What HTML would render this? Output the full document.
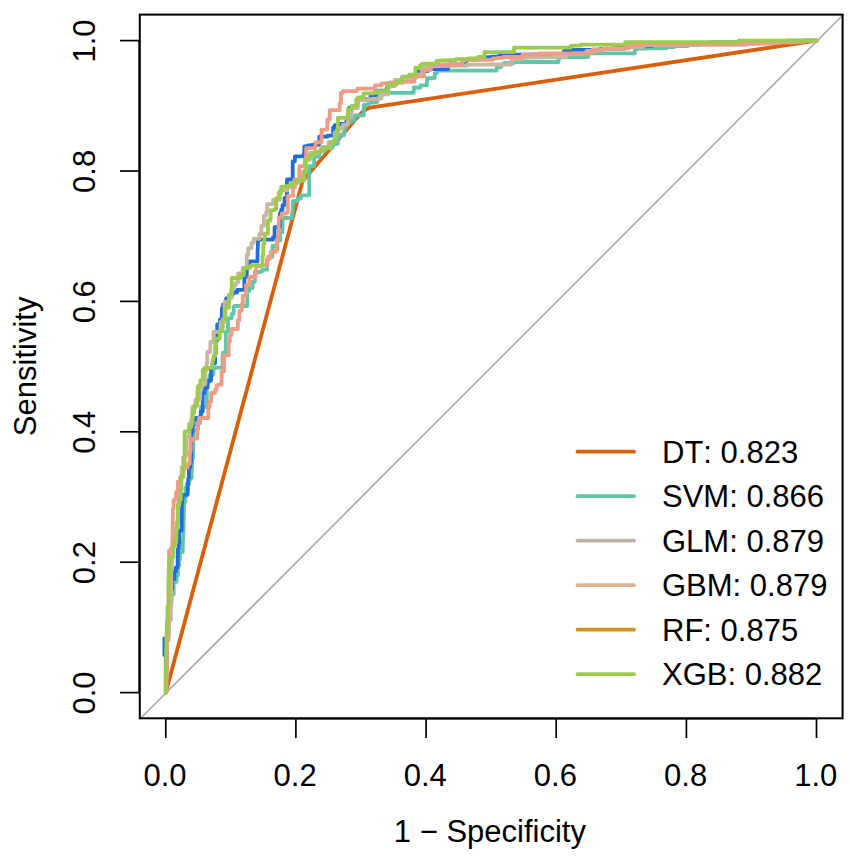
<!DOCTYPE html>
<html><head><meta charset="utf-8"><title>ROC</title>
<style>html,body{margin:0;padding:0;background:#fff}svg{display:block}text{font-kerning:none}</style></head>
<body>
<svg width="850" height="861" viewBox="0 0 850 861">
<rect width="850" height="861" fill="#fff"/>
<g fill="none" stroke-linejoin="round" stroke-linecap="round">
<line x1="140.2" y1="718.7" x2="843.0" y2="15.0" stroke="#A8A8A8" stroke-width="1.6"/>
<path d="M165.8 692.6 L302.6 181.0 L358.0 116.5 L363.5 110.8 L370.0 107.6 L816.5 40.6" stroke="#D95F0A" stroke-width="3.8"/>
<path d="M165.8 692.6 L165.8 689.5 L165.8 689.5 L165.8 688.8 L165.8 688.8 L165.8 688.8 L165.8 684.7 L165.8 675.6 L165.8 675.6 L166.5 675.6 L166.5 673.4 L166.5 665.9 L166.5 665.9 L166.5 664.4 L166.9 664.4 L166.9 658.4 L166.9 658.4 L166.9 640.0 L166.9 640.0 L166.9 640.0 L166.9 637.4 L166.9 633.2 L167.6 633.2 L167.6 622.0 L168.1 622.0 L168.1 618.0 L168.2 618.0 L168.9 618.0 L168.9 610.8 L168.9 607.0 L170.4 607.0 L170.7 607.0 L170.7 603.0 L171.6 603.0 L171.6 602.1 L171.6 602.1 L171.6 597.5 L171.6 594.2 L171.6 594.2 L173.7 594.2 L173.7 583.0 L173.7 581.9 L174.1 581.9 L176.5 581.9 L176.5 575.6 L178.0 575.6 L178.0 565.2 L179.3 565.2 L179.3 561.8 L179.4 561.8 L179.4 559.8 L179.9 559.8 L179.9 557.5 L179.9 552.2 L181.6 552.2 L182.7 552.2 L182.7 546.4 L183.4 532.4 L184.1 501.8 L185.5 501.8 L185.5 495.6 L185.5 487.7 L186.8 487.7 L186.8 483.9 L188.2 483.9 L188.9 483.9 L188.9 480.2 L188.9 480.0 L190.0 480.0 L190.1 480.0 L190.1 478.0 L191.7 478.0 L191.7 473.8 L191.7 470.2 L192.0 470.2 L192.0 458.2 L192.4 458.2 L193.0 458.2 L193.0 455.0 L193.0 451.2 L193.0 451.2 L193.3 451.2 L193.3 450.6 L193.3 431.1 L194.3 431.1 L194.3 430.0 L195.0 430.0 L197.9 430.0 L197.9 425.6 L197.9 425.6 L197.9 423.2 L200.0 423.2 L200.0 418.0 L201.0 418.0 L201.0 417.4 L201.0 407.2 L206.8 407.2 L206.8 406.0 L206.8 406.0 L206.8 393.0 L206.8 391.9 L206.8 391.9 L206.8 391.1 L206.8 391.1 L206.8 381.6 L209.7 381.6 L209.7 375.0 L213.0 375.0 L213.0 374.5 L213.5 374.5 L213.5 373.0 L213.5 373.0 L213.5 367.7 L216.3 367.7 L222.6 367.7 L222.6 357.5 L222.6 355.0 L223.0 355.0 L223.0 355.0 L223.0 353.0 L223.0 352.6 L223.0 352.6 L225.8 352.6 L225.8 347.1 L225.8 347.1 L225.8 343.9 L225.8 332.0 L228.0 332.0 L228.0 318.3 L230.9 318.3 L231.7 318.3 L231.7 313.9 L233.7 313.9 L233.7 309.6 L233.7 306.6 L234.0 306.6 L234.5 306.6 L234.5 306.0 L247.2 306.0 L247.2 292.5 L247.2 291.3 L248.7 291.3 L248.7 291.1 L248.7 291.1 L249.4 291.1 L249.4 290.5 L249.4 288.1 L252.6 288.1 L252.6 288.1 L252.6 287.8 L252.6 281.8 L254.9 281.8 L254.9 272.0 L259.7 272.0 L260.8 272.0 L260.8 271.5 L260.8 271.5 L260.8 271.3 L262.2 271.3 L262.2 269.7 L267.0 269.7 L267.0 262.5 L267.0 259.4 L268.3 259.4 L268.3 256.7 L270.8 256.7 L272.4 256.7 L272.4 253.0 L272.4 246.0 L277.0 246.0 L277.0 240.5 L277.0 240.4 L277.0 240.4 L280.1 240.4 L280.1 232.5 L281.2 232.5 L281.2 232.1 L282.5 232.1 L282.5 229.0 L282.5 218.0 L287.9 218.0 L291.8 218.0 L291.8 214.4 L292.5 214.4 L292.5 211.1 L292.5 210.7 L292.7 210.7 L292.7 201.2 L296.1 201.2 L296.1 200.7 L296.6 200.7 L297.7 200.7 L297.7 199.2 L297.7 198.7 L299.2 198.7 L300.7 198.7 L300.7 196.1 L300.7 195.4 L302.5 195.4 L309.2 195.4 L309.2 187.7 L309.2 166.2 L314.1 166.2 L314.1 162.9 L314.1 156.9 L315.6 156.9 L315.6 156.8 L316.0 156.8 L319.1 156.8 L319.1 151.4 L321.4 151.4 L321.4 150.8 L325.4 150.8 L325.4 147.9 L332.3 147.9 L332.3 144.8 L332.3 143.8 L333.3 143.8 L337.8 143.8 L337.8 137.1 L340.0 137.1 L340.0 135.0 L344.4 135.0 L344.4 127.7 L346.1 127.7 L346.1 125.1 L346.1 123.1 L347.8 123.1 L348.0 123.1 L348.0 122.0 L351.2 122.0 L351.2 119.9 L354.7 119.9 L354.7 115.4 L361.8 115.4 L363.8 115.4 L363.8 112.5 L363.8 104.8 L368.8 104.8 L368.8 104.1 L368.8 104.1 L368.8 102.7 L374.5 102.7 L374.5 102.7 L374.5 102.0 L377.1 102.0 L377.1 100.3 L377.1 92.8 L382.5 92.8 L413.8 92.8 L413.8 87.5 L418.9 87.5 L420.4 87.5 L420.4 85.4 L426.8 85.4 L426.8 82.9 L426.8 82.9 L427.0 82.9 L427.0 78.1 L431.6 78.1 L434.7 78.1 L434.7 73.2 L434.7 73.1 L434.9 73.1 L436.8 73.1 L436.8 72.2 L436.8 70.6 L444.8 70.6 L496.7 70.6 L496.7 67.1 L500.8 67.1 L500.8 64.5 L504.1 64.5 L504.1 63.0 L510.3 63.0 L514.0 63.0 L514.0 62.0 L556.0 62.0 L558.5 62.0 L558.5 58.3 L558.5 58.3 L559.6 58.3 L559.6 57.3 L561.3 57.3 L565.7 57.3 L565.7 57.3 L565.7 57.0 L584.8 57.0 L585.6 57.0 L585.6 57.0 L588.1 57.0 L588.1 53.4 L632.6 53.4 L634.8 53.4 L634.8 49.6 L636.4 49.6 L636.4 48.5 L637.2 48.5 L637.2 48.5 L646.4 48.5 L646.4 48.4 L653.5 48.4 L653.5 48.4 L653.5 48.4 L662.0 48.4 L666.2 48.4 L666.2 48.1 L666.2 47.1 L674.3 47.1 L674.3 46.1 L677.1 46.1 L677.1 46.1 L677.6 46.1 L680.4 46.1 L680.4 46.1 L687.8 46.1 L687.8 45.5 L687.8 45.0 L700.0 45.0 L700.0 44.2 L700.6 44.2 L700.6 44.2 L700.7 44.2 L700.7 44.2 L710.0 44.2 L713.9 44.2 L713.9 44.2 L722.0 44.2 L722.0 43.6 L729.3 43.6 L729.3 43.6 L729.3 43.0 L740.0 43.0 L744.2 43.0 L744.2 43.0 L744.2 43.0 L745.4 43.0 L745.4 42.2 L746.5 42.2 L746.5 42.2 L749.9 42.2 L749.9 42.2 L752.5 42.2 L759.6 42.2 L759.6 42.2 L759.6 42.2 L766.6 42.2 L766.6 42.2 L771.0 42.2 L771.0 41.1 L788.7 41.1 L788.7 41.0 L794.1 41.0 L794.1 41.0 L796.7 41.0 L796.7 41.0 L803.7 41.0 L803.7 40.6 L816.5 40.6" stroke="#5FC6AA" stroke-width="3.8"/>
<path d="M165.8 692.6 L165.8 655.0 L164.4 655.0 L164.4 638.5 L166.8 638.5 L167.6 620.0 L167.6 619.1 L167.6 619.1 L167.6 619.1 L167.6 618.0 L168.3 618.0 L168.3 611.2 L169.3 611.2 L169.3 598.0 L169.3 589.3 L172.1 589.3 L172.1 589.3 L172.1 587.6 L172.1 587.6 L172.1 579.0 L174.4 579.0 L174.4 574.6 L174.4 574.6 L174.4 571.4 L175.9 571.4 L175.9 567.5 L177.6 567.5 L177.6 557.4 L177.9 557.4 L177.9 556.8 L177.9 548.8 L178.8 548.8 L178.8 543.6 L179.2 543.6 L179.2 535.2 L179.2 530.7 L181.6 530.7 L182.0 503.0 L182.7 497.6 L182.7 494.8 L187.6 494.8 L188.3 478.1 L188.9 478.1 L188.9 476.1 L188.9 467.3 L190.4 467.3 L190.4 467.3 L190.4 462.0 L191.2 462.0 L191.2 458.8 L191.2 432.5 L192.5 432.5 L192.5 429.2 L192.5 425.9 L193.7 425.9 L193.7 419.9 L196.1 419.9 L196.1 417.7 L197.8 417.7 L200.7 417.7 L200.7 411.6 L202.7 411.6 L202.7 409.4 L202.7 393.0 L204.6 393.0 L204.6 388.6 L205.8 388.6 L205.8 387.3 L207.7 387.3 L207.7 381.4 L207.7 380.5 L207.7 380.5 L211.0 380.5 L211.0 369.9 L211.0 367.9 L212.4 367.9 L212.4 363.3 L215.1 363.3 L215.1 354.1 L215.7 354.1 L215.7 353.3 L215.7 353.3 L215.7 340.3 L217.2 340.3 L217.2 340.3 L217.2 340.1 L217.2 339.6 L217.2 339.6 L217.2 339.6 L217.2 329.0 L217.2 324.5 L219.5 324.5 L219.5 323.2 L219.5 323.2 L219.9 323.2 L219.9 319.3 L221.9 319.3 L221.9 308.2 L223.0 308.2 L223.0 307.5 L223.0 304.5 L226.2 304.5 L226.2 298.3 L228.8 298.3 L228.8 295.9 L231.7 295.9 L231.7 294.4 L232.8 294.4 L232.8 292.5 L235.2 292.5 L237.1 292.5 L237.1 290.2 L237.1 290.2 L237.1 289.8 L244.4 289.8 L244.4 281.0 L244.4 276.8 L244.8 276.8 L246.8 276.8 L246.8 267.8 L246.8 266.4 L246.8 266.4 L246.8 266.4 L246.8 265.8 L249.2 265.8 L249.2 263.2 L249.2 261.4 L250.8 261.4 L257.5 261.4 L257.5 254.8 L258.1 239.6 L273.0 239.6 L273.0 239.6 L273.0 237.2 L274.6 237.2 L274.6 227.2 L279.8 227.2 L279.8 216.8 L279.8 213.8 L280.5 213.8 L280.5 212.1 L281.2 212.1 L281.2 212.1 L281.2 210.7 L281.2 209.7 L282.5 209.7 L282.5 205.1 L282.8 205.1 L284.5 205.1 L284.5 198.0 L287.0 198.0 L287.0 191.0 L287.0 182.7 L287.0 179.4 L292.7 179.4 L292.7 161.3 L294.9 161.3 L294.9 158.1 L294.9 156.4 L296.8 156.4 L303.4 156.4 L303.4 154.7 L303.4 154.7 L304.3 154.7 L304.3 146.5 L307.6 146.5 L307.6 146.5 L307.6 145.5 L311.7 145.5 L311.7 144.8 L319.1 144.8 L319.1 144.1 L319.3 144.1 L319.3 136.6 L325.7 136.6 L327.6 136.6 L327.6 135.7 L333.1 135.7 L333.1 132.4 L333.1 127.4 L334.7 127.4 L334.7 125.1 L339.5 125.1 L339.5 123.8 L340.7 123.8 L346.2 123.8 L346.2 122.5 L346.4 122.5 L346.4 121.1 L347.9 121.1 L347.9 111.0 L347.9 109.7 L349.3 109.7 L349.3 107.7 L354.5 107.7 L357.1 107.7 L357.1 104.0 L357.8 104.0 L357.8 99.4 L357.8 99.4 L358.2 99.4 L358.2 99.4 L358.4 99.4 L370.6 99.4 L370.6 95.0 L375.9 95.0 L375.9 93.5 L375.9 90.6 L379.2 90.6 L387.2 90.6 L387.2 86.7 L388.7 86.7 L388.7 86.7 L389.1 86.7 L389.1 85.5 L389.1 82.7 L395.1 82.7 L395.1 81.2 L399.2 81.2 L402.3 81.2 L402.3 79.0 L402.3 77.0 L406.3 77.0 L410.8 77.0 L410.8 77.0 L410.8 75.5 L415.4 75.5 L416.1 75.5 L416.1 75.3 L416.1 71.4 L425.3 71.4 L425.3 71.1 L427.9 71.1 L427.9 69.0 L437.0 69.0 L448.0 69.0 L448.0 64.5 L452.0 64.5 L461.7 64.5 L461.7 62.4 L461.7 62.0 L462.1 62.0 L466.2 62.0 L466.2 62.0 L466.2 60.9 L466.4 60.9 L466.4 59.5 L479.4 59.5 L479.4 57.6 L487.0 57.6 L487.0 57.1 L491.8 57.1 L491.8 56.7 L499.2 56.7 L499.4 56.7 L499.4 56.7 L499.4 55.0 L506.8 55.0 L509.0 55.0 L509.0 54.6 L523.9 54.6 L560.9 54.0 L560.9 53.8 L564.0 53.8 L564.0 50.9 L570.8 50.9 L570.8 49.8 L578.8 49.8 L584.3 49.8 L584.3 49.8 L584.3 49.8 L591.5 49.8 L591.5 49.6 L596.7 49.6 L598.0 49.6 L598.0 49.6 L600.2 49.6 L600.2 49.6 L600.2 49.0 L600.5 49.0 L604.0 49.0 L604.0 49.0 L614.5 49.0 L614.5 47.1 L614.5 46.7 L628.8 46.7 L628.8 46.0 L635.1 46.0 L635.1 46.0 L635.7 46.0 L635.7 46.0 L640.0 46.0 L640.0 45.8 L643.0 45.8 L643.0 45.8 L647.4 45.8 L652.4 45.8 L652.4 45.3 L652.4 44.2 L661.4 44.2 L665.9 44.2 L665.9 44.2 L665.9 44.0 L689.3 44.0 L689.3 44.0 L689.3 44.0 L697.3 44.0 L697.3 44.0 L697.3 44.0 L697.9 44.0 L697.9 44.0 L700.0 44.0 L710.5 44.0 L710.5 42.5 L711.0 42.5 L711.0 42.5 L711.0 42.5 L712.7 42.5 L712.7 42.5 L724.7 42.5 L728.7 42.5 L728.7 42.5 L728.7 42.5 L738.3 42.5 L738.3 42.5 L740.0 42.5 L740.0 41.1 L754.0 41.1 L754.0 41.1 L764.4 41.1 L764.4 40.8 L765.1 40.8 L765.1 40.8 L767.7 40.8 L777.8 40.8 L777.8 40.8 L777.8 40.8 L786.5 40.8 L786.5 40.6 L796.5 40.6 L799.1 40.6 L799.1 40.6 L799.1 40.6 L799.8 40.6 L801.4 40.6 L801.4 40.6 L802.9 40.6 L802.9 40.6 L811.0 40.6 L811.0 40.6 L811.0 40.6 L816.5 40.6" stroke="#1F6FDB" stroke-width="3.8"/>
<path d="M165.8 692.6 L165.8 692.6 L165.8 682.1 L165.8 679.7 L166.3 679.7 L166.3 679.7 L166.3 679.6 L166.3 677.1 L166.3 677.1 L167.0 677.1 L167.0 673.0 L167.0 662.8 L167.0 662.8 L167.0 662.8 L167.0 653.8 L167.0 653.8 L167.0 648.4 L167.0 640.0 L167.0 640.0 L168.6 640.0 L168.6 637.6 L168.6 636.2 L168.8 636.2 L168.8 634.1 L169.0 634.1 L169.0 620.0 L170.9 620.0 L170.9 594.0 L171.2 594.0 L171.2 591.5 L171.2 575.3 L171.2 575.3 L171.2 571.3 L171.2 571.3 L171.2 570.0 L172.0 570.0 L172.0 569.5 L172.0 569.5 L172.1 569.5 L172.1 561.9 L172.1 556.9 L173.4 556.9 L173.4 546.0 L173.4 546.0 L174.7 546.0 L174.7 543.9 L174.7 542.9 L174.7 542.9 L176.0 542.9 L176.0 530.0 L176.4 530.0 L176.4 522.9 L176.4 522.3 L176.6 522.3 L178.1 522.3 L178.1 519.8 L178.1 506.2 L178.5 506.2 L179.0 506.2 L179.0 505.0 L179.0 505.0 L179.0 504.9 L179.2 504.9 L179.2 500.3 L179.2 484.3 L180.7 484.3 L180.7 482.0 L181.0 482.0 L181.0 479.6 L181.6 479.6 L181.6 467.1 L183.2 467.1 L183.2 467.1 L183.2 464.7 L183.2 457.4 L185.0 457.4 L185.0 455.0 L185.0 455.0 L186.6 455.0 L186.6 452.1 L186.6 450.5 L186.6 450.5 L186.6 436.5 L189.5 436.5 L189.5 436.5 L189.5 432.8 L189.5 432.8 L189.5 432.0 L189.5 426.9 L191.3 426.9 L191.3 424.9 L191.3 424.9 L191.3 419.1 L192.2 419.1 L192.2 406.9 L193.7 406.9 L195.5 406.9 L195.5 404.9 L195.5 400.0 L196.0 400.0 L196.0 399.4 L197.1 399.4 L200.2 399.4 L200.2 391.6 L200.2 388.6 L201.6 388.6 L201.6 385.0 L203.0 385.0 L203.0 384.2 L203.4 384.2 L205.3 384.2 L205.3 371.0 L205.3 370.5 L206.7 370.5 L206.7 370.3 L206.7 370.3 L206.7 365.8 L206.7 365.8 L206.7 363.3 L207.3 363.3 L207.3 352.0 L209.8 352.0 L210.3 352.0 L210.3 346.9 L210.3 342.0 L213.0 342.0 L213.0 340.9 L213.5 340.9 L213.5 331.8 L218.7 331.8 L220.5 331.8 L220.5 327.3 L220.6 327.3 L220.6 326.4 L220.6 322.0 L222.0 322.0 L224.6 322.0 L224.6 311.2 L224.6 301.8 L229.0 301.8 L229.0 301.8 L229.0 301.0 L229.0 301.0 L229.0 300.4 L229.0 300.0 L229.0 300.0 L229.0 297.8 L231.0 297.8 L231.9 297.8 L231.9 292.5 L231.9 287.8 L234.3 287.8 L234.3 285.0 L236.0 285.0 L236.0 282.3 L238.1 282.3 L238.1 273.4 L241.4 273.4 L242.6 273.4 L242.6 269.1 L242.6 268.0 L243.0 268.0 L246.8 268.0 L246.8 255.4 L246.8 254.8 L248.2 254.8 L248.2 248.2 L251.1 248.2 L251.5 248.2 L251.5 248.0 L251.5 245.3 L251.5 245.3 L251.5 242.7 L253.8 242.7 L253.8 238.8 L256.6 238.8 L259.4 238.8 L259.4 234.0 L261.4 234.0 L261.4 230.5 L261.4 225.9 L261.8 225.9 L263.9 225.9 L263.9 220.7 L263.9 215.7 L266.4 215.7 L266.4 211.4 L267.2 211.4 L267.2 207.4 L267.2 207.4 L267.2 204.1 L270.9 204.1 L270.9 204.1 L272.9 204.1 L273.0 204.1 L273.0 202.8 L273.0 199.8 L275.6 199.8 L280.0 199.8 L280.0 192.0 L280.0 190.3 L282.2 190.3 L287.6 190.3 L287.6 187.2 L295.0 187.2 L295.0 185.4 L295.0 184.0 L296.0 184.0 L296.0 183.9 L296.3 183.9 L296.3 180.8 L298.7 180.8 L302.9 180.8 L302.9 176.3 L302.9 172.0 L305.0 172.0 L305.0 171.4 L305.3 171.4 L305.3 159.4 L308.9 159.4 L310.0 159.4 L310.0 158.0 L310.1 158.0 L310.1 158.0 L310.1 153.0 L318.0 153.0 L318.0 151.6 L321.3 151.6 L321.3 147.0 L326.5 147.0 L328.2 147.0 L328.2 145.2 L328.7 145.2 L328.7 145.2 L328.7 142.0 L334.7 142.0 L334.7 132.7 L338.0 132.7 L338.0 132.7 L338.0 131.0 L338.0 129.5 L338.4 129.5 L339.8 129.5 L339.8 127.8 L342.9 127.8 L342.9 124.7 L347.9 124.7 L347.9 117.0 L351.2 117.0 L351.2 112.7 L351.7 112.7 L351.7 110.0 L351.7 108.1 L354.5 108.1 L357.8 108.1 L357.8 101.0 L357.8 100.4 L358.0 100.4 L368.8 100.4 L368.8 99.9 L368.8 99.2 L378.2 99.2 L378.7 99.2 L378.7 98.5 L381.5 98.5 L381.5 95.5 L382.5 95.5 L382.5 94.4 L388.1 94.4 L388.1 87.2 L389.1 87.2 L389.1 86.0 L394.9 86.0 L394.9 83.7 L394.9 80.0 L400.4 80.0 L402.3 80.0 L402.3 79.5 L402.3 78.4 L403.3 78.4 L414.2 78.4 L414.2 76.0 L414.2 76.0 L415.4 76.0 L415.4 76.0 L415.4 75.7 L416.7 75.7 L416.7 74.7 L422.0 74.7 L422.0 66.5 L438.5 66.0 L464.0 65.7 L467.0 65.7 L467.0 65.7 L467.0 65.7 L467.0 65.7 L467.0 64.6 L480.4 64.6 L490.6 64.6 L490.6 64.5 L500.8 64.5 L500.8 64.5 L500.9 64.5 L500.9 64.5 L500.9 64.5 L504.1 64.5 L504.1 64.5 L509.0 64.5 L511.5 64.5 L511.5 60.8 L511.5 59.9 L514.0 59.9 L514.0 59.2 L515.5 59.2 L523.9 59.2 L523.9 57.5 L560.0 57.0 L565.8 57.0 L565.8 56.0 L565.8 56.0 L566.6 56.0 L566.6 54.0 L577.4 54.0 L578.0 54.0 L578.0 54.0 L578.0 54.0 L583.4 54.0 L583.4 53.6 L586.6 53.6 L586.6 50.9 L591.4 50.9 L595.5 50.9 L595.5 50.9 L595.5 50.5 L602.9 50.5 L602.9 49.0 L613.8 49.0 L613.9 49.0 L613.9 49.0 L620.7 49.0 L620.7 49.0 L620.7 49.0 L625.2 49.0 L625.2 48.3 L628.9 48.3 L628.9 47.1 L637.1 47.1 L642.2 47.1 L642.2 45.8 L644.5 45.8 L644.5 45.5 L644.5 45.1 L650.1 45.1 L661.0 45.1 L661.0 45.1 L666.3 45.1 L666.3 45.1 L666.3 45.1 L674.7 45.1 L678.3 45.1 L678.3 44.8 L678.9 44.8 L678.9 44.8 L678.9 44.8 L688.0 44.8 L699.6 44.8 L699.6 44.8 L699.6 44.8 L705.9 44.8 L705.9 44.8 L714.1 44.8 L714.1 44.8 L723.4 44.8 L723.6 44.8 L723.6 44.8 L723.6 44.8 L724.6 44.8 L724.6 44.8 L733.6 44.8 L733.6 44.8 L740.0 44.8 L740.0 44.8 L741.1 44.8 L746.5 44.8 L746.5 44.0 L746.6 44.0 L746.6 44.0 L746.6 43.8 L754.3 43.8 L754.3 43.5 L772.2 43.5 L772.2 43.1 L773.2 43.1 L773.2 42.9 L774.7 42.9 L774.7 42.4 L790.0 42.4 L790.5 42.4 L790.5 42.4 L794.9 42.4 L794.9 41.7 L794.9 41.7 L800.6 41.7 L803.2 41.7 L803.2 40.7 L807.5 40.7 L807.5 40.7 L816.5 40.7 L816.5 40.6" stroke="#C8B69E" stroke-width="3.8"/>
<path d="M165.8 692.6 L166.6 692.6 L166.6 687.5 L166.6 676.1 L166.6 676.1 L166.6 670.5 L166.6 670.5 L166.6 668.7 L166.6 668.7 L167.0 668.7 L167.0 659.6 L167.0 659.6 L167.0 658.9 L167.0 656.9 L167.0 656.9 L167.0 656.9 L167.0 647.8 L167.0 640.0 L167.0 640.0 L168.3 640.0 L168.3 636.8 L168.3 636.8 L168.3 629.1 L168.3 629.1 L168.3 624.4 L168.4 624.4 L168.4 620.0 L168.6 594.0 L168.6 574.3 L169.0 560.4 L169.0 550.6 L171.2 550.6 L171.2 547.6 L172.3 547.6 L172.3 547.6 L172.3 545.0 L172.8 518.0 L172.8 515.1 L172.9 515.1 L172.9 508.7 L173.6 508.7 L173.6 499.9 L174.3 499.9 L176.1 499.9 L176.1 494.7 L176.1 494.3 L176.3 494.3 L176.3 494.3 L176.3 491.8 L177.7 491.8 L177.7 485.0 L177.7 481.7 L178.8 481.7 L180.1 481.7 L180.1 477.1 L183.5 477.1 L183.5 473.0 L183.5 470.0 L184.0 470.0 L184.0 467.5 L186.4 467.5 L187.5 467.5 L187.5 463.8 L189.7 463.8 L189.7 459.0 L189.7 453.8 L190.1 453.8 L190.1 450.8 L190.7 450.8 L190.7 450.8 L190.7 441.4 L190.7 440.4 L192.4 440.4 L192.4 438.6 L197.2 438.6 L197.2 438.6 L197.2 436.9 L197.2 429.3 L198.1 429.3 L198.1 422.8 L199.0 422.8 L199.0 418.0 L202.8 418.0 L208.3 418.0 L208.3 408.9 L208.3 408.9 L208.3 407.3 L209.6 407.3 L209.6 406.0 L209.7 406.0 L209.7 402.1 L209.7 401.5 L211.2 401.5 L211.2 393.0 L215.0 393.0 L215.0 389.7 L216.6 389.7 L216.6 389.7 L216.6 388.3 L216.6 385.3 L217.8 385.3 L218.2 385.3 L218.2 384.7 L221.6 384.7 L221.6 371.4 L224.0 371.4 L224.0 361.6 L224.0 361.6 L224.0 360.0 L224.0 355.3 L226.2 355.3 L228.7 355.3 L228.7 344.8 L228.7 341.7 L229.8 341.7 L229.8 340.7 L229.8 340.7 L229.8 335.6 L231.2 335.6 L231.2 335.1 L231.6 335.1 L231.6 329.0 L237.8 329.0 L237.8 319.9 L239.4 319.9 L239.4 319.2 L239.4 319.2 L239.4 319.2 L239.4 310.8 L241.7 310.8 L241.7 304.0 L242.8 304.0 L242.8 298.8 L242.8 295.6 L245.3 295.6 L246.0 295.6 L246.0 292.7 L246.0 285.1 L249.3 285.1 L249.3 277.0 L253.7 277.0 L255.7 277.0 L255.7 271.3 L255.7 271.3 L255.7 270.1 L255.7 269.7 L255.9 269.7 L255.9 266.4 L261.4 266.4 L261.4 265.2 L261.9 265.2 L267.4 265.2 L267.4 261.4 L267.4 258.0 L270.6 258.0 L270.6 251.9 L274.3 251.9 L275.7 251.9 L275.7 249.9 L277.3 249.9 L277.3 240.2 L277.3 240.0 L277.3 240.0 L277.9 240.0 L277.9 235.2 L277.9 234.9 L278.4 234.9 L278.7 234.9 L278.7 223.9 L278.7 217.6 L281.7 217.6 L281.7 213.7 L284.1 213.7 L286.1 213.7 L286.1 212.4 L287.8 212.4 L287.8 202.4 L287.8 202.4 L287.8 201.5 L287.8 201.5 L287.8 195.9 L293.0 195.9 L293.0 186.1 L294.4 186.1 L294.4 184.7 L294.4 184.4 L294.4 184.4 L294.4 179.4 L297.7 179.4 L299.3 179.4 L299.3 169.2 L299.3 166.2 L299.3 166.2 L304.7 166.2 L304.7 161.5 L304.7 159.7 L305.9 159.7 L305.9 156.2 L306.2 156.2 L306.2 148.1 L307.5 148.1 L315.5 148.1 L315.5 143.3 L315.5 142.3 L319.1 142.3 L319.9 142.3 L319.9 142.3 L321.5 142.3 L321.5 135.7 L321.5 129.6 L326.7 129.6 L326.7 129.1 L327.3 129.1 L327.3 119.3 L329.8 119.3 L329.8 113.6 L329.8 113.6 L329.8 113.6 L329.8 112.6 L329.8 110.2 L331.3 110.2 L331.3 110.2 L331.9 110.2 L339.7 110.2 L339.7 104.4 L339.7 103.4 L340.9 103.4 L340.9 92.8 L342.9 92.8 L342.9 91.1 L347.7 91.1 L357.1 91.1 L357.1 90.5 L357.4 90.5 L357.4 90.5 L357.4 88.7 L362.7 88.7 L374.9 88.7 L374.9 85.4 L374.9 85.4 L379.3 85.4 L381.4 85.4 L381.4 83.4 L381.4 83.4 L387.3 83.4 L387.3 82.9 L389.1 82.9 L402.3 82.9 L402.3 81.8 L405.0 81.8 L414.3 81.8 L414.3 77.8 L416.4 77.8 L416.4 77.2 L416.4 76.4 L418.7 76.4 L424.0 76.4 L424.0 70.8 L425.3 70.8 L425.3 69.8 L430.9 69.8 L430.9 68.4 L431.4 68.4 L431.4 68.3 L431.4 64.5 L439.9 64.5 L462.1 64.5 L462.1 60.8 L464.6 60.8 L464.6 59.8 L480.2 59.8 L493.0 59.8 L493.0 58.3 L497.6 58.3 L497.6 57.8 L503.4 57.8 L503.4 57.8 L503.4 57.8 L503.6 57.8 L503.6 57.0 L510.3 57.0 L510.4 57.0 L510.4 57.0 L511.5 57.0 L511.5 57.0 L522.5 57.0 L522.5 54.6 L523.9 54.6 L523.9 54.6 L538.8 54.6 L538.8 53.4 L538.8 53.4 L542.7 53.4 L555.0 53.4 L555.0 53.4 L561.1 53.4 L561.1 53.4 L561.1 53.4 L567.7 53.4 L567.7 53.4 L570.1 53.4 L571.0 53.4 L571.0 53.4 L571.0 53.4 L573.5 53.4 L578.2 53.4 L578.2 53.4 L584.0 53.4 L584.0 53.4 L592.5 53.4 L592.5 51.1 L592.5 49.7 L597.3 49.7 L600.4 49.7 L600.4 49.6 L600.4 49.6 L602.9 49.6 L602.9 48.4 L611.9 48.4 L611.9 48.4 L614.4 48.4 L615.5 48.4 L615.5 48.4 L625.2 48.4 L625.2 48.4 L627.9 48.4 L627.9 47.5 L627.9 45.3 L635.4 45.3 L642.2 45.3 L642.2 45.2 L642.2 44.4 L645.7 44.4 L658.7 44.4 L658.7 44.4 L660.6 44.4 L660.6 44.4 L660.6 44.4 L665.4 44.4 L665.4 44.4 L666.1 44.4 L681.1 44.4 L681.1 44.4 L686.6 44.4 L686.6 44.4 L694.0 44.4 L694.0 44.4 L694.0 44.4 L712.3 44.4 L712.3 44.4 L713.4 44.4 L717.0 44.4 L717.0 44.4 L717.0 44.4 L721.4 44.4 L721.4 44.4 L728.7 44.4 L730.3 44.4 L730.3 44.4 L733.6 44.4 L733.6 44.4 L735.5 44.4 L735.5 43.5 L735.8 43.5 L735.8 43.5 L759.2 43.5 L759.2 42.9 L759.2 42.9 L761.7 42.9 L761.7 42.9 L764.7 42.9 L764.7 42.9 L772.6 42.9 L772.6 42.9 L773.2 42.9 L773.2 42.9 L773.7 42.9 L774.8 42.9 L774.8 42.9 L774.8 42.9 L779.4 42.9 L779.4 42.3 L781.6 42.3 L783.5 42.3 L783.5 42.3 L783.5 41.6 L802.5 41.6 L804.3 41.6 L804.3 40.9 L804.3 40.6 L816.5 40.6" stroke="#EF9C86" stroke-width="3.8"/>
<path d="M165.8 692.6 L166.3 640.0 L166.3 640.0 L166.3 637.1 L166.3 635.6 L166.7 635.6 L166.7 627.4 L167.5 627.4 L167.5 620.0 L167.5 620.0 L167.5 620.0 L167.5 613.8 L167.5 613.8 L167.5 613.3 L167.5 613.3 L167.5 609.2 L167.5 606.6 L168.6 606.6 L168.6 600.4 L168.6 600.4 L168.6 586.4 L168.6 586.4 L168.6 580.0 L169.5 580.0 L169.5 558.3 L171.1 558.3 L171.1 556.7 L172.3 556.7 L172.3 556.5 L172.3 556.5 L172.3 556.5 L172.3 556.5 L172.3 556.3 L172.3 556.3 L173.4 556.3 L173.4 544.6 L175.1 544.6 L175.1 541.8 L175.1 539.2 L176.5 539.2 L176.5 535.8 L176.5 535.8 L176.5 527.9 L177.4 527.9 L177.9 512.0 L177.9 504.1 L179.3 504.1 L179.3 501.8 L179.3 501.8 L179.3 501.8 L179.3 499.5 L180.9 499.5 L180.9 494.7 L180.9 488.9 L181.4 488.9 L181.4 488.9 L181.4 486.0 L181.4 475.8 L183.2 475.8 L183.2 475.8 L183.2 469.1 L183.2 466.5 L184.6 466.5 L184.6 431.5 L189.2 431.5 L189.2 429.5 L189.2 423.7 L192.0 423.7 L192.5 423.7 L192.5 422.8 L192.5 416.0 L192.7 416.0 L192.7 413.1 L194.1 413.1 L194.1 409.4 L194.5 409.4 L194.5 405.5 L195.1 405.5 L197.4 405.5 L197.4 392.5 L197.4 391.1 L197.8 391.1 L197.8 391.1 L197.8 386.4 L199.1 386.4 L199.1 385.4 L200.3 385.4 L200.3 380.1 L202.8 380.1 L202.8 374.1 L202.8 370.0 L204.4 370.0 L204.4 367.8 L205.7 367.8 L212.5 367.8 L212.5 360.3 L212.5 360.0 L213.4 360.0 L213.4 360.0 L213.4 359.3 L213.4 356.0 L215.1 356.0 L215.1 352.0 L215.1 352.0 L215.1 338.6 L219.7 338.6 L219.7 336.4 L219.7 336.4 L219.7 336.4 L219.7 335.4 L219.7 331.3 L222.7 331.3 L222.7 331.3 L222.7 331.2 L222.7 319.0 L225.4 319.0 L225.4 307.5 L227.7 307.5 L228.9 307.5 L228.9 306.6 L228.9 294.5 L229.8 294.5 L229.8 294.1 L229.9 294.1 L231.2 294.1 L231.2 291.2 L231.2 291.2 L231.2 289.4 L231.8 289.4 L231.8 288.7 L231.8 278.0 L240.2 278.0 L240.2 278.0 L240.2 277.5 L240.2 275.4 L241.0 275.4 L241.4 275.4 L241.4 275.4 L242.5 275.4 L242.5 275.1 L244.0 275.1 L244.0 273.4 L244.0 267.8 L250.3 267.8 L250.3 265.8 L251.9 265.8 L251.9 265.4 L252.4 265.4 L262.5 265.4 L262.5 255.7 L263.3 255.7 L263.3 244.1 L264.4 244.1 L264.4 238.4 L264.4 237.0 L264.7 237.0 L264.7 233.6 L266.0 233.6 L267.9 233.6 L267.9 228.4 L267.9 220.4 L270.2 220.4 L270.2 218.9 L270.7 218.9 L270.7 210.2 L274.7 210.2 L274.7 209.0 L275.4 209.0 L276.2 209.0 L276.2 207.3 L276.2 198.2 L278.9 198.2 L278.9 192.5 L280.8 192.5 L281.2 192.5 L281.2 189.3 L281.2 186.6 L286.3 186.6 L286.3 186.2 L288.9 186.2 L288.9 185.5 L291.3 185.5 L291.3 182.7 L297.7 182.7 L297.7 180.0 L299.8 180.0 L304.3 180.0 L304.3 172.8 L304.3 171.2 L305.9 171.2 L305.9 171.2 L305.9 168.8 L305.9 159.5 L309.5 159.5 L309.5 156.0 L310.8 156.0 L310.8 154.8 L314.1 154.8 L314.1 152.1 L318.2 152.1 L320.7 152.1 L320.7 149.7 L323.8 149.7 L323.8 148.0 L330.4 148.0 L330.4 143.2 L334.0 143.2 L334.0 140.1 L334.7 140.1 L334.7 139.0 L336.2 139.0 L336.2 135.1 L336.4 135.1 L336.4 130.7 L337.1 130.7 L337.1 130.6 L337.9 130.6 L337.9 128.8 L337.9 117.8 L346.6 117.8 L347.9 117.8 L347.9 115.9 L347.9 109.6 L351.5 109.6 L351.5 105.9 L354.4 105.9 L356.3 105.9 L356.3 101.5 L356.3 99.4 L357.8 99.4 L357.8 97.3 L363.6 97.3 L363.6 93.4 L372.0 93.4 L373.2 93.4 L373.2 92.9 L375.9 92.9 L375.9 92.8 L377.1 92.8 L377.1 92.8 L377.1 91.2 L380.2 91.2 L388.0 91.2 L388.0 85.1 L388.0 84.6 L389.1 84.6 L389.7 84.6 L389.7 84.3 L396.6 84.3 L396.6 81.5 L402.3 81.5 L402.3 78.0 L402.3 76.7 L409.1 76.7 L409.1 76.7 L409.1 76.0 L409.1 74.7 L415.4 74.7 L415.4 68.0 L419.9 68.0 L419.9 65.3 L421.4 65.3 L422.0 65.3 L422.0 64.8 L422.0 63.6 L431.5 63.6 L436.5 63.6 L436.5 61.0 L438.5 61.0 L438.5 60.7 L450.0 60.2 L455.9 60.2 L455.9 60.2 L455.9 59.2 L460.9 59.2 L461.8 59.2 L461.8 59.2 L468.2 59.2 L468.2 59.2 L468.2 58.5 L478.0 58.5 L478.0 57.0 L484.3 57.0 L484.3 52.1 L486.8 52.1 L511.5 52.1 L514.0 52.1 L514.0 47.7 L568.3 47.7 L570.8 47.7 L570.8 45.9 L573.1 45.9 L573.1 45.6 L580.7 45.6 L580.7 45.2 L580.7 44.7 L581.0 44.7 L590.0 44.7 L590.0 44.7 L590.0 44.7 L603.6 44.7 L605.1 44.7 L605.1 44.7 L605.4 44.7 L605.4 44.7 L624.9 44.7 L624.9 44.7 L625.2 44.7 L625.2 44.7 L625.2 42.2 L627.6 42.2 L738.6 42.2 L738.6 40.7 L741.0 40.7 L816.5 40.6" stroke="#9CCB50" stroke-width="3.8"/>
</g>
<g fill="none" stroke="#000" stroke-linecap="butt" stroke-linejoin="miter">
<rect x="139.8" y="14.6" width="702.8" height="703.7" stroke-width="2"/>
<line x1="139.2" y1="693.4" x2="139.2" y2="39.8" stroke-width="1.7"/>
<line x1="165.0" y1="718.6" x2="817.3" y2="718.6" stroke-width="1.7"/>
<line x1="165.8" y1="718.3" x2="165.8" y2="738.1" stroke-width="1.7"/>
<line x1="139.8" y1="692.6" x2="120.0" y2="692.6" stroke-width="1.7"/>
<line x1="295.9" y1="718.3" x2="295.9" y2="738.1" stroke-width="1.7"/>
<line x1="139.8" y1="562.2" x2="120.0" y2="562.2" stroke-width="1.7"/>
<line x1="426.1" y1="718.3" x2="426.1" y2="738.1" stroke-width="1.7"/>
<line x1="139.8" y1="431.8" x2="120.0" y2="431.8" stroke-width="1.7"/>
<line x1="556.2" y1="718.3" x2="556.2" y2="738.1" stroke-width="1.7"/>
<line x1="139.8" y1="301.4" x2="120.0" y2="301.4" stroke-width="1.7"/>
<line x1="686.4" y1="718.3" x2="686.4" y2="738.1" stroke-width="1.7"/>
<line x1="139.8" y1="171.0" x2="120.0" y2="171.0" stroke-width="1.7"/>
<line x1="816.5" y1="718.3" x2="816.5" y2="738.1" stroke-width="1.7"/>
<line x1="139.8" y1="40.6" x2="120.0" y2="40.6" stroke-width="1.7"/>
</g>
<g font-family="'Liberation Sans', Arial, sans-serif" font-size="31" fill="#000">
<text x="165.0" y="786.3" text-anchor="middle">0.0</text>
<text transform="translate(94.6 693.0) rotate(-90)" text-anchor="middle">0.0</text>
<text x="295.1" y="786.3" text-anchor="middle">0.2</text>
<text transform="translate(94.6 562.6) rotate(-90)" text-anchor="middle">0.2</text>
<text x="425.3" y="786.3" text-anchor="middle">0.4</text>
<text transform="translate(94.6 432.2) rotate(-90)" text-anchor="middle">0.4</text>
<text x="555.4" y="786.3" text-anchor="middle">0.6</text>
<text transform="translate(94.6 301.8) rotate(-90)" text-anchor="middle">0.6</text>
<text x="685.6" y="786.3" text-anchor="middle">0.8</text>
<text transform="translate(94.6 171.4) rotate(-90)" text-anchor="middle">0.8</text>
<text x="815.7" y="786.3" text-anchor="middle">1.0</text>
<text transform="translate(94.6 41.0) rotate(-90)" text-anchor="middle">1.0</text>
<text x="489.9" y="841.8" text-anchor="middle">1 − Specificity</text>
<text transform="translate(36.4 366.4) rotate(-90)" text-anchor="middle">Sensitivity</text>
<line x1="577.5" y1="451.7" x2="634" y2="451.7" stroke="#D95F0A" stroke-width="3.8" stroke-linecap="round"/>
<text x="662" y="462.6">DT: 0.823</text>
<line x1="577.5" y1="496.2" x2="634" y2="496.2" stroke="#5FC6AA" stroke-width="3.8" stroke-linecap="round"/>
<text x="662" y="507.1">SVM: 0.866</text>
<line x1="577.5" y1="540.7" x2="634" y2="540.7" stroke="#BDB2A2" stroke-width="3.8" stroke-linecap="round"/>
<text x="662" y="551.6">GLM: 0.879</text>
<line x1="577.5" y1="585.2" x2="634" y2="585.2" stroke="#DDB48C" stroke-width="3.8" stroke-linecap="round"/>
<text x="662" y="596.1">GBM: 0.879</text>
<line x1="577.5" y1="629.7" x2="634" y2="629.7" stroke="#D4921C" stroke-width="3.8" stroke-linecap="round"/>
<text x="662" y="640.6">RF: 0.875</text>
<line x1="577.5" y1="674.2" x2="634" y2="674.2" stroke="#9CCB50" stroke-width="3.8" stroke-linecap="round"/>
<text x="662" y="685.1">XGB: 0.882</text>
</g>
</svg>
</body></html>
